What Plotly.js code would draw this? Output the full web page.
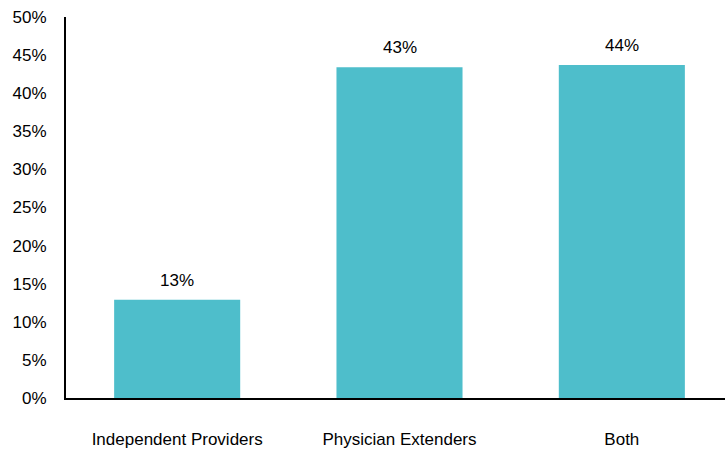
<!DOCTYPE html>
<html>
<head>
<meta charset="utf-8">
<script src="https://cdn.plot.ly/plotly-3.0.1.min.js"></script>
<style>html,body{margin:0;padding:0;background:#fff;}#chart{width:725px;height:450px;}</style>
</head>
<body>
<div id="chart"></div>
<script>
const categories = ["Independent Providers", "Physician Extenders", "Both"];
const values = [12.9, 43.4, 43.7];
const labels = ["13%", "43%", "44%"];
const yTickVals = [0, 5, 10, 15, 20, 25, 30, 35, 40, 45, 50];
const yTickText = ["0%", "5%", "10%", "15%", "20%", "25%", "30%", "35%", "40%", "45%", "50%"];

const font = {family: "Liberation Sans, Arial, sans-serif", size: 17, color: "#000"};

const trace = {
  type: "bar",
  x: categories,
  y: values,
  width: 0.567,
  marker: {color: "#4EBECB", line: {width: 0}},
  hoverinfo: "skip"
};

const annotations = categories.map((c, i) => ({
  x: c, y: values[i], text: labels[i], showarrow: false,
  xanchor: "center", yanchor: "bottom", yshift: 8, font: font
}));

const layout = {
  width: 725, height: 450,
  margin: {l: 66, r: 0, t: 17, b: 52},
  paper_bgcolor: "#fff", plot_bgcolor: "#fff",
  showlegend: false,
  font: font,
  xaxis: {
    range: [-0.5, 2.464],
    showline: true, linecolor: "#000", linewidth: 2,
    showgrid: false, zeroline: false, ticks: "",
    ticklabelstandoff: 25, tickfont: font, fixedrange: true
  },
  yaxis: {
    range: [0, 50],
    tickvals: yTickVals, ticktext: yTickText,
    showline: true, linecolor: "#000", linewidth: 2,
    showgrid: false, zeroline: false, ticks: "",
    ticklabelstandoff: 14, tickfont: font, fixedrange: true
  },
  annotations: annotations
};

Plotly.newPlot("chart", [trace], layout, {displayModeBar: false, staticPlot: true});
</script>
</body>
</html>
